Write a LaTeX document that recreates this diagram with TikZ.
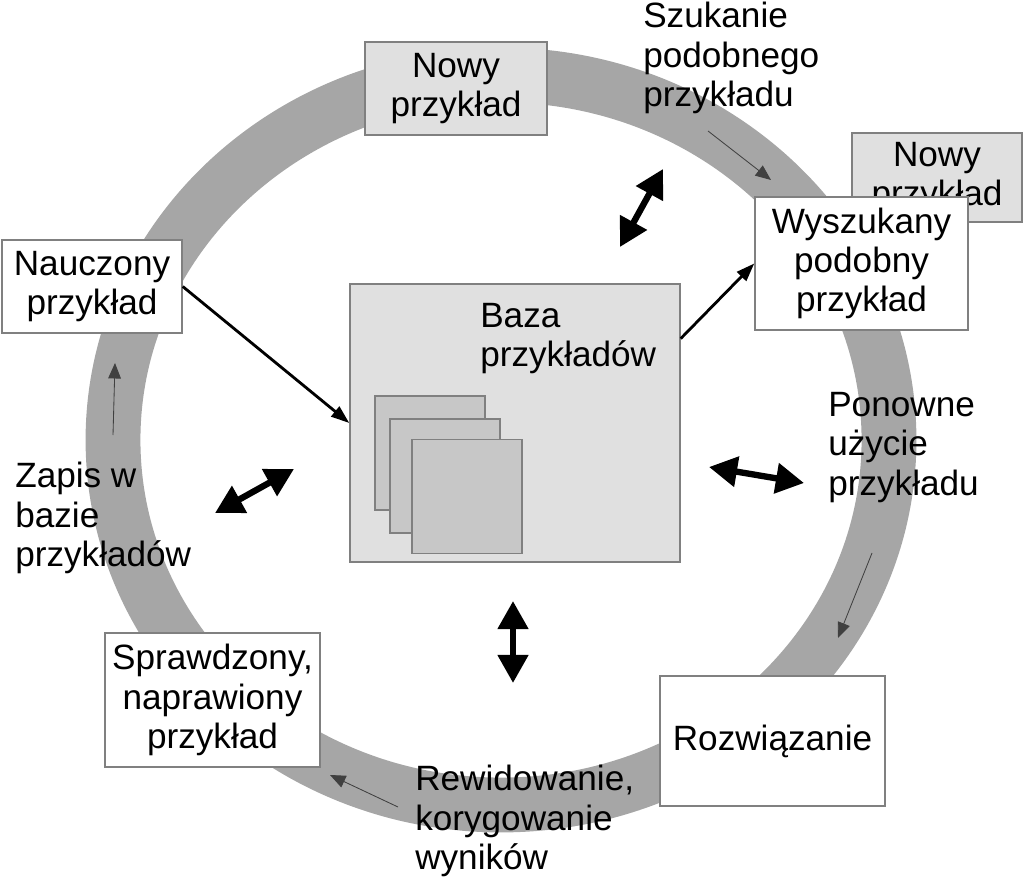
\documentclass[tikz,border=0pt]{standalone}
\usepackage{fontspec}
\setmainfont{Liberation Sans}
\usetikzlibrary{arrows.meta}
\definecolor{ringgray}{gray}{0.65}
\definecolor{boxfill}{gray}{0.88}
\definecolor{cardfill}{gray}{0.78}
\definecolor{edgegray}{gray}{0.5}

\begin{document}
\begin{tikzpicture}[x=0.025cm, y=-0.025cm,
  every node/.style={font=\fontsize{25}{28}\selectfont, inner sep=0pt, align=center},
  box/.style={draw=edgegray, line width=1pt, fill=white},
  graybox/.style={box, fill=boxfill},
  card/.style={draw=edgegray, line width=1pt, fill=cardfill, minimum width=2.75cm, minimum height=2.85cm},
  lbl/.style={anchor=north west, align=left},
  flow/.style={black!75, line width=0.6pt, -{Triangle[length=11pt,width=9pt]}},
  link/.style={line width=2pt, -{Triangle[length=13pt,width=9pt]}},
  both/.style={line width=4.5pt, {Triangle[length=20pt,width=21pt]}-{Triangle[length=20pt,width=21pt]}}]
\useasboundingbox (0,0) rectangle (1024,878);

% the cycle
\draw[ringgray, line width=39pt] (501,440) ellipse [x radius=388, y radius=365];

\node (nowy) [graybox, minimum width=4.55cm, minimum height=2.325cm] at (456,88.5) {Nowy\\przykład};
\node (nowy2) [graybox, minimum width=4.25cm, minimum height=2.225cm] at (937,177.5) {Nowy\\przykład};
\node (wysz) [box, minimum width=5.325cm, minimum height=3.325cm] at (861.5,263.5) {Wyszukany\\podobny\\przykład};
\node (nauczony) [box, minimum width=4.5cm, minimum height=2.325cm] at (92,286.5) {Nauczony\\przykład};
\node (sprawdz) [box, minimum width=5.375cm, minimum height=3.35cm] at (212.5,700) {Sprawdzony,\\naprawiony\\przykład};
\node (rozw) [box, minimum width=5.625cm, minimum height=3.25cm] at (772.5,741) {Rozwiązanie};

% base with stored cases
\node (baza) [graybox, minimum width=8.25cm, minimum height=6.95cm] at (515,423) {};
\node (bazatxt) [lbl] at (480,303) {Baza\\przykładów};
\node (k1) [card] at (430,453) {};
\node (k2) [card] at (445,476) {};
\node (k3) [card] at (467,496.5) {};

% step labels
\node (szuk) [lbl] at (643,2) {Szukanie\\podobnego\\przykładu};
\node (ponow) [lbl] at (828,392) {Ponowne\\użycie\\przykładu};
\node (rewid) [lbl] at (415,765) {Rewidowanie,\\korygowanie\\wyników};
\node (zapis) [lbl] at (15,462) {Zapis w\\bazie\\przykładów};

\draw[link] (nauczony.east) -- (baza.west);
\draw[link] (baza.27) -- (wysz.west);

\draw[flow] (708,131) -- (771,180);
\draw[flow] (872,553) -- (838,638);
\draw[flow] (398,807) -- (330,775);
\draw[flow] (113,435) -- (115,363);

\draw[both] (620,247) -- (663,169);
\draw[both] (709,467) -- (804,483);
\draw[both] (513,601) -- (513,683);
\draw[both] (215,513) -- (294,469);
\end{tikzpicture}
\end{document}
